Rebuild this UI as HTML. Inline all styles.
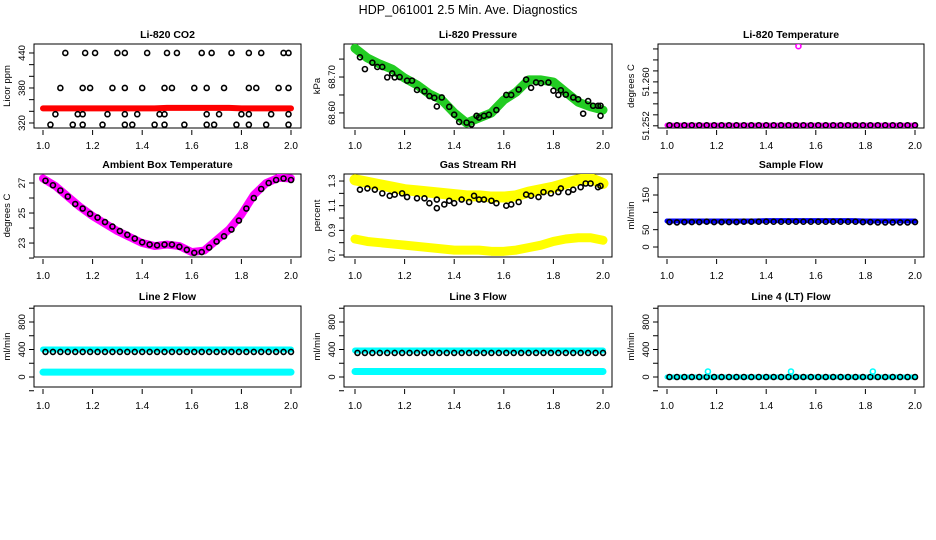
<!DOCTYPE html>
<html><head><meta charset="utf-8">
<style>
html,body{margin:0;padding:0;background:#fff;}
svg{display:block;font-family:"Liberation Sans",sans-serif;}
</style></head>
<body>
<svg id="chart" width="936" height="540" viewBox="0 0 936 540" xmlns="http://www.w3.org/2000/svg">
<text x="468" y="14" text-anchor="middle" font-size="12.5">HDP_061001  2.5 Min. Ave. Diagnostics</text>
</svg>
<script>
// ---- shared data ----
const bandX = [1.00,1.05,1.10,1.15,1.20,1.25,1.30,1.35,1.40,1.45,1.50,1.55,1.60,1.65,1.70,1.75,1.80,1.85,1.90,1.95,2.00];
const denseX = [1.01,1.04,1.07,1.10,1.13,1.16,1.19,1.22,1.25,1.28,1.31,1.34,1.37,1.40,1.43,1.46,1.49,1.52,1.55,1.58,1.61,1.64,1.67,1.70,1.73,1.76,1.79,1.82,1.85,1.88,1.91,1.94,1.97,2.00];
const xTicks = [1.0,1.2,1.4,1.6,1.8,2.0];
const xTickLabels = ["1.0","1.2","1.4","1.6","1.8","2.0"];

// CO2
const co2Band = [345,345,345,345,345,345,345,345,345,345,346,346,346,346,346,346,345,345,345,345,345];
const co2BlackX = [1.09,1.17,1.21,1.30,1.33,1.42,1.50,1.54,1.64,1.68,1.76,1.83,1.88,1.97,1.99,
 1.07,1.16,1.19,1.28,1.33,1.40,1.49,1.52,1.61,1.66,1.73,1.83,1.86,1.95,1.99,
 1.05,1.14,1.16,1.26,1.33,1.38,1.47,1.49,1.66,1.71,1.80,1.83,1.92,1.99,
 1.03,1.12,1.16,1.24,1.33,1.36,1.45,1.49,1.57,1.66,1.69,1.78,1.83,1.90,1.99];
const co2BlackY = [440,440,440,440,440,440,440,440,440,440,440,440,440,440,440,
 380,380,380,380,380,380,380,380,380,380,380,380,380,380,380,
 335,335,335,335,335,335,335,335,335,335,335,335,335,335,
 317,317,317,317,317,317,317,317,317,317,317,317,317,317,317];

// Pressure
const presBand = [68.78,68.753,68.736,68.722,68.697,68.678,68.653,68.636,68.600,68.572,68.586,68.600,68.636,68.658,68.692,68.692,68.686,68.658,68.630,68.617,68.608];
const presBlackX = [1.02,1.04,1.07,1.09,1.11,1.13,1.15,1.16,1.18,1.21,1.23,1.25,1.28,1.30,1.32,1.33,1.35,1.38,1.40,1.42,1.45,1.47,1.49,1.50,1.52,1.54,1.57,1.61,1.63,1.66,1.69,1.71,1.73,1.75,1.78,1.80,1.82,1.83,1.85,1.88,1.90,1.92,1.94,1.96,1.98,1.99,1.99];
const presBlackY = [68.755,68.722,68.74,68.728,68.728,68.699,68.71,68.699,68.70,68.69,68.69,68.664,68.66,68.647,68.642,68.618,68.643,68.617,68.595,68.575,68.573,68.568,68.592,68.587,68.592,68.595,68.608,68.650,68.650,68.665,68.693,68.670,68.685,68.683,68.685,68.662,68.650,68.663,68.651,68.643,68.638,68.598,68.633,68.620,68.620,68.620,68.592];

// Li-820 temperature
const tempBand = [51.2521,51.2521,51.2521,51.2521,51.2521,51.2521,51.2521,51.2521,51.2521,51.2521,51.2521,51.2521,51.2521,51.2521,51.2521,51.2521,51.2521,51.2521,51.2521,51.2521,51.2521];
const tempBlackY = [51.2521,51.2521,51.2521,51.2521,51.2521,51.2521,51.2521,51.2521,51.2521,51.2521,51.2521,51.2521,51.2521,51.2521,51.2521,51.2521,51.2521,51.2521,51.2521,51.2521,51.2521,51.2521,51.2521,51.2521,51.2521,51.2521,51.2521,51.2521,51.2521,51.2521,51.2521,51.2521,51.2521,51.2521];
const tempOutlierX = [1.53];
const tempOutlierY = [51.2665];

// Ambient box temperature
const ambBand = [27.3,26.8,26.1,25.4,24.8,24.3,23.8,23.4,23.0,22.8,22.9,22.8,22.4,22.5,23.2,23.9,24.9,26.2,27.0,27.35,27.3];
const ambBlackY = [27.15,26.85,26.5,26.1,25.6,25.3,24.95,24.7,24.4,24.1,23.8,23.55,23.3,23.05,22.9,22.85,22.9,22.9,22.75,22.55,22.35,22.4,22.7,23.1,23.45,23.9,24.5,25.3,26.0,26.6,27.0,27.2,27.3,27.2];

// Gas stream RH
const rhUpper = [1.31,1.29,1.27,1.25,1.23,1.22,1.21,1.20,1.19,1.18,1.18,1.17,1.17,1.18,1.21,1.23,1.25,1.28,1.31,1.32,1.28];
const rhLower = [0.83,0.81,0.80,0.79,0.78,0.77,0.76,0.75,0.74,0.74,0.74,0.73,0.73,0.74,0.76,0.78,0.81,0.83,0.84,0.84,0.82];
const rhBlackX = [1.02,1.05,1.08,1.11,1.14,1.16,1.19,1.21,1.25,1.28,1.30,1.33,1.33,1.36,1.38,1.40,1.43,1.46,1.48,1.50,1.52,1.55,1.57,1.61,1.63,1.66,1.69,1.71,1.74,1.76,1.79,1.82,1.83,1.86,1.88,1.91,1.93,1.95,1.98,1.99];
const rhBlackY = [1.23,1.24,1.23,1.20,1.18,1.19,1.20,1.17,1.16,1.16,1.12,1.08,1.15,1.11,1.14,1.12,1.15,1.13,1.18,1.15,1.15,1.14,1.12,1.10,1.11,1.13,1.19,1.18,1.17,1.21,1.20,1.21,1.24,1.21,1.23,1.25,1.28,1.28,1.25,1.26];

// Sample flow
const sampBand = [75,75,75,75,75,75,75,75,76,76,76,76,76,76,76,76,75,75,75,75,75];
const sampBlackY = [72,71,72,72,72,73,72,72,72,72,73,73,73,73,73,73,73,73,73,73,73,73,73,73,73,73,72,72,71,71,71,71,71,72];

// Line 2 flow
const l2Upper = [400,400,400,400,400,400,400,400,400,400,400,400,400,400,400,400,400,400,400,400,400];
const l2Lower = [70,70,70,70,70,70,70,70,70,70,70,70,70,70,70,70,70,70,70,70,70];
const l2BlackY = [365,365,365,365,365,365,365,365,365,365,365,365,365,365,365,365,365,365,365,365,365,365,365,365,365,365,365,365,365,365,365,365,365,365];

// Line 3 flow
const l3Upper = [385,385,385,385,385,385,385,385,385,385,385,385,385,385,385,385,385,385,385,385,385];
const l3Lower = [80,80,80,80,80,80,80,80,80,80,80,80,80,80,80,80,80,80,80,80,80];
const l3BlackY = [350,350,350,350,350,350,350,350,350,350,350,350,350,350,350,350,350,350,350,350,350,350,350,350,350,350,350,350,350,350,350,350,350,350];

// Line 4 flow
const l4Band = [0,0,0,0,0,0,0,0,0,0,0,0,0,0,0,0,0,0,0,0,0];
const l4BlackY = [0,0,0,0,0,0,0,0,0,0,0,0,0,0,0,0,0,0,0,0,0,0,0,0,0,0,0,0,0,0,0,0,0,0];
const l4OutX = [1.165,1.50,1.83];
const l4OutY = [80,80,80];

// ---- drawing ----
const svg = document.getElementById('chart');
const NS = 'http://www.w3.org/2000/svg';
function mk(tag, attrs, parent){ const e=document.createElementNS(NS,tag); for(const k in attrs) e.setAttribute(k,attrs[k]); (parent||svg).appendChild(e); return e; }

const cols = [{l:34,r:301,x0:43,x1:291},{l:344,r:612,x0:355,x1:603},{l:658,r:924,x0:667,x1:915}];
const rows = [{t:44,b:128,lab:145},{t:174,b:257,lab:275},{t:306,b:387,lab:405}];

function panel(name, title, ylab, col, row, yTop, yBot, yTicks, yLabels){
  const c=cols[col], r=rows[row];
  const g=mk('g',{});
  
  
  const sx=v=>c.x0+(v-1)*(c.x1-c.x0);
  const sy=v=>r.t+(yTop-v)/(yTop-yBot)*(r.b-r.t);
  const box=mk('rect',{x:c.l,y:r.t,width:c.r-c.l,height:r.b-r.t,fill:'none',stroke:'#000','stroke-width':1},g);
  
  
  const t=mk('text',{x:(c.l+c.r)/2,y:r.t-6,'text-anchor':'middle','font-size':10.5,'font-weight':'bold'},g);
  t.textContent=title;
  
  
  xTicks.forEach((v,i)=>{
    mk('line',{x1:sx(v),x2:sx(v),y1:r.b+2,y2:r.b+7,stroke:'#000'},g);
    const tl=mk('text',{x:sx(v),y:r.lab+4,'text-anchor':'middle','font-size':10},g);
    tl.textContent=xTickLabels[i];
    
    
  });
  yTicks.forEach(v=>{
    mk('line',{x1:c.l-5,x2:c.l,y1:sy(v),y2:sy(v),stroke:'#000'},g);
  });
  yLabels.forEach(v=>{
    const x=c.l-9, y=sy(v);
    const tl=mk('text',{x:x,y:y,'text-anchor':'middle','font-size':9.5,transform:`rotate(-90 ${x} ${y})`},g);
    tl.textContent=String(v);
    
    
  });
  const yx=c.l-24, yy=(r.t+r.b)/2;
  const yl=mk('text',{x:yx,y:yy,'text-anchor':'middle','font-size':9.5,transform:`rotate(-90 ${yx} ${yy})`},g);
  yl.textContent=ylab;
  
  
  const clip=mk('clipPath',{id:'clip-'+name},g);
  mk('rect',{x:c.l,y:r.t,width:c.r-c.l,height:r.b-r.t},clip);
  const pg=mk('g',{'clip-path':`url(#clip-${name})`},g);
  return {
    band(xs,ys,color,w,nm){
      const p=mk('polyline',{points:xs.map((x,i)=>sx(x)+','+sy(ys[i])).join(' '),fill:'none',stroke:color,'stroke-width':w,'stroke-linejoin':'round','stroke-linecap':'round'},pg);
      
      
    },
    pts(xs,ys,color,nm){
      xs.forEach((x,i)=>{
        const ci=mk('circle',{cx:sx(x),cy:sy(ys[i]),r:2.5,fill:'none',stroke:color,'stroke-width':1.6},pg);
        
        
      });
    }
  };
}

let p;
p=panel('co2-panel','Li-820 CO2','Licor ppm',0,0,455.4,311.4,[320,340,360,380,400,420,440],[320,380,440]);
p.band(bandX,co2Band,'#ff0000',6,'co2-band');
p.pts(co2BlackX,co2BlackY,'#000','co2-point');

p=panel('pressure-panel','Li-820 Pressure','kPa',1,0,68.792,68.558,[68.60,68.65,68.70,68.75],['68.60','68.70']);
p.band(bandX,presBand,'#22cc22',9,'pressure-band');
p.pts(presBlackX,presBlackY,'#000','pressure-point');

p=panel('li820-temp-panel','Li-820 Temperature','degrees C',2,0,51.2669,51.2516,[51.252,51.254,51.256,51.258,51.260,51.262,51.264,51.266],['51.252','51.260']);
p.band(bandX,tempBand,'#ff00ff',5,'li820-temp-band');
p.pts(denseX,tempBlackY,'#000','li820-temp-point');
p.pts(tempOutlierX,tempOutlierY,'#ff00ff','li820-temp-outlier');

p=panel('ambient-panel','Ambient Box Temperature','degrees C',0,1,27.6,22.07,[22,23,24,25,26,27],[23,25,27]);
p.band(bandX,ambBand,'#ff00ff',8,'ambient-band');
p.pts(denseX,ambBlackY,'#000','ambient-point');

p=panel('rh-panel','Gas Stream RH','percent',1,1,1.357,0.684,[0.7,0.8,0.9,1.0,1.1,1.2,1.3],['0.7','0.9','1.1','1.3']);
p.band(bandX,rhUpper,'#ffff00',11,'rh-upper-band');
p.band(bandX,rhLower,'#ffff00',9,'rh-lower-band');
p.pts(rhBlackX,rhBlackY,'#000','rh-point');

p=panel('sample-flow-panel','Sample Flow','ml/min',2,1,210.6,-28.8,[0,50,100,150,200],[0,50,150]);
p.band(bandX,sampBand,'#0000ff',5,'sample-flow-band');
p.pts(denseX,sampBlackY,'#000','sample-flow-point');

p=panel('line2-panel','Line 2 Flow','ml/min',0,2,1032.7,-145.5,[-200,0,200,400,600,800,1000],[0,400,800]);
p.band(bandX,l2Upper,'#00ffff',6,'line2-upper-band');
p.band(bandX,l2Lower,'#00ffff',7,'line2-lower-band');
p.pts(denseX,l2BlackY,'#000','line2-point');

p=panel('line3-panel','Line 3 Flow','ml/min',1,2,1032.7,-145.5,[-200,0,200,400,600,800,1000],[0,400,800]);
p.band(bandX,l3Upper,'#00ffff',6,'line3-upper-band');
p.band(bandX,l3Lower,'#00ffff',7,'line3-lower-band');
p.pts(denseX,l3BlackY,'#000','line3-point');

p=panel('line4-panel','Line 4 (LT) Flow','ml/min',2,2,1032.7,-145.5,[-200,0,200,400,600,800,1000],[0,400,800]);
p.band(bandX,l4Band,'#00ffff',5,'line4-band');
p.pts(denseX,l4BlackY,'#000','line4-point');
p.pts(l4OutX,l4OutY,'#00ffff','line4-outlier');
</script>
</body></html>
